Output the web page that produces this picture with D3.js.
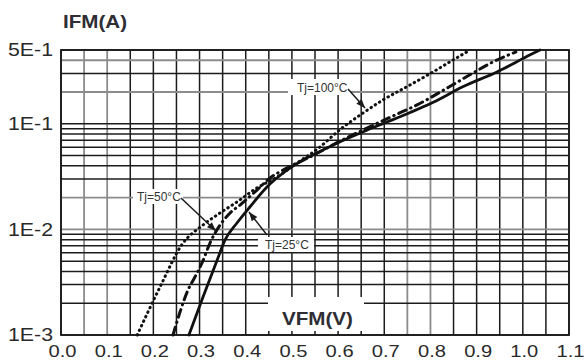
<!DOCTYPE html>
<html>
<head>
<meta charset="utf-8">
<script src="https://cdn.jsdelivr.net/npm/d3@7"></script>
<style>
  body { margin: 0; background: #fff; }
  svg { display: block; font-family: "Liberation Sans", Arial, sans-serif; }
</style>
</head>
<body>
<svg id="chart" width="586" height="363"></svg>
<script>
// forward curves
const vfm25 = [0.277, 0.3075, 0.338, 0.355, 0.381, 0.409, 0.446, 0.481, 0.524, 0.554, 0.589, 0.663, 0.706, 0.756, 0.806, 0.870, 0.944, 1.016, 1.037];
const ifm25 = [0.001, 0.00229, 0.0051, 0.0079, 0.0115, 0.0163, 0.0252, 0.0342, 0.0454, 0.0528, 0.063, 0.0873, 0.104, 0.128, 0.160, 0.224, 0.31, 0.45, 0.5];

const vfm50 = [0.2425, 0.2577, 0.275, 0.290, 0.3053, 0.3226, 0.366, 0.3876, 0.4244, 0.4526, 0.489, 0.539, 0.60, 0.66, 0.732, 0.771, 0.840, 0.907, 0.935, 0.985];
const ifm50 = [0.001, 0.00165, 0.00267, 0.00354, 0.00481, 0.00743, 0.0143, 0.017, 0.0236, 0.0307, 0.0381, 0.0485, 0.067, 0.09, 0.126, 0.151, 0.223, 0.33, 0.385, 0.479];

const vfm100 = [0.165, 0.2144, 0.262, 0.3075, 0.3443, 0.3811, 0.4244, 0.4677, 0.511, 0.556, 0.604, 0.654, 0.697, 0.75, 0.80, 0.85, 0.886];
const ifm100 = [0.001, 0.00285, 0.0072, 0.011, 0.0143, 0.0182, 0.0247, 0.0313, 0.0425, 0.058, 0.088, 0.1265, 0.168, 0.226, 0.30, 0.405, 0.5];

const xTickValues = [0, 0.1, 0.2, 0.3, 0.4, 0.5, 0.6, 0.7, 0.8, 0.9, 1.0, 1.1];
const xTickLabels = ['0.0', '0.1', '0.2', '0.3', '0.4', '0.5', '0.6', '0.7', '0.8', '0.9', '1.0', '1.1'];
const yTickValues = [0.5, 0.1, 0.01, 0.001];
const yTickLabels = ['5E-1', '1E-1', '1E-2', '1E-3'];

// gridlines that print lighter in the scan
const greyV = [0.05, 0.1, 0.75, 0.8];
const greyH = [0.4, 0.2, 0.02, 0.01];

const svg = d3.select("#chart");
const x = d3.scaleLinear().domain([0, 1.1]).range([61, 569]);
const y = d3.scaleLog().domain([0.001, 0.5]).range([335, 50]);
const ink = "#1c1c1c";
const near = (list, v) => list.some(g => Math.abs(g - v) < 1e-9);

// grid
const grid = svg.append("g");
grid.selectAll(".vg")
    .data(x.ticks(22))
    .enter()
    .append("line")
    .attr("x1", d => x(d)).attr("x2", d => x(d))
    .attr("y1", 50).attr("y2", 335)
    .attr("stroke", d => near(greyV, d) ? "#8c8c8c" : ink)
    .attr("stroke-width", d => near(greyV, d) ? 1.8 : 1.5);

grid.selectAll(".hg")
    .data(y.ticks())
    .enter()
    .append("line")
    .attr("x1", 61).attr("x2", 569)
    .attr("y1", d => y(d)).attr("y2", d => y(d))
    .attr("stroke", d => near(greyH, d) ? "#8c8c8c" : ink)
    .attr("stroke-width", d => near(greyH, d) ? 1.8 : 1.5);

grid.append("rect")
    .attr("x", 61).attr("y", 50).attr("width", 508).attr("height", 285)
    .attr("fill", "none").attr("stroke", ink).attr("stroke-width", 1.8);

// white patches behind the in-plot labels
const patches = [[268, 297, 96, 34], [288, 79, 63, 16], [133, 189, 50, 15], [258, 237, 56, 15]];
svg.selectAll(".patch")
    .data(patches)
    .enter()
    .append("rect")
    .attr("x", d => d[0]).attr("y", d => d[1])
    .attr("width", d => d[2]).attr("height", d => d[3])
    .attr("fill", "#fff");

// curves
const line = d3.line()
    .x(d => x(d[0]))
    .y(d => y(d[1]))
    .curve(d3.curveMonotoneX);

const series = [
    { v: vfm25, i: ifm25, dash: null, w: 2.8 },
    { v: vfm50, i: ifm50, dash: "8 5 0.5 5", w: 3 },
    { v: vfm100, i: ifm100, dash: "0.5 4.5", w: 3 }
];

svg.selectAll(".curve")
    .data(series)
    .enter()
    .append("path")
    .attr("d", s => line(s.v.map((v, k) => [v, s.i[k]])))
    .attr("fill", "none")
    .attr("stroke", "#111")
    .attr("stroke-width", s => s.w)
    .attr("stroke-linecap", "round")
    .attr("stroke-dasharray", s => s.dash);

// axes labels
const xAxis = svg.append("g")
    .attr("transform", "translate(0,335)")
    .call(d3.axisBottom(x).tickValues(xTickValues).tickFormat((d, k) => xTickLabels[k]).tickSize(0).tickPadding(10));
xAxis.select(".domain").remove();
xAxis.selectAll("text")
    .attr("x", 1)
    .attr("font-size", 17)
    .attr("font-family", "Liberation Sans, Arial")
    .attr("fill", "#2a2a2a")
    .attr("textLength", 28)
    .attr("lengthAdjust", "spacingAndGlyphs");

const yAxis = svg.append("g")
    .attr("transform", "translate(61,0)")
    .call(d3.axisLeft(y).tickValues(yTickValues).tickFormat((d, k) => yTickLabels[k]).tickSize(0).tickPadding(8));
yAxis.select(".domain").remove();
yAxis.selectAll("text")
    .attr("font-size", 18)
    .attr("font-family", "Liberation Sans, Arial")
    .attr("fill", "#2a2a2a")
    .attr("textLength", 45)
    .attr("lengthAdjust", "spacingAndGlyphs");

svg.append("text")
    .attr("x", 63).attr("y", 28)
    .attr("font-size", 18).attr("font-weight", "bold")
    .attr("fill", "#2e2e34")
    .attr("textLength", 64).attr("lengthAdjust", "spacingAndGlyphs")
    .text("IFM(A)");

svg.append("text")
    .attr("x", 282).attr("y", 325)
    .attr("font-size", 18).attr("font-weight", "bold")
    .attr("fill", "#2e2e34")
    .attr("textLength", 71).attr("lengthAdjust", "spacingAndGlyphs")
    .text("VFM(V)");

// temperature annotations
const notes = [
    { text: "Tj=100°C", x: 297, y: 92, from: [348, 89], to: [365, 108] },
    { text: "Tj=50°C", x: 137, y: 201, from: [181, 198], to: [216, 231] },
    { text: "Tj=25°C", x: 265, y: 249, from: [267, 235], to: [249, 212] }
];

svg.selectAll(".note")
    .data(notes)
    .enter()
    .append("text")
    .attr("x", d => d.x).attr("y", d => d.y)
    .attr("font-size", 12)
    .attr("fill", "#333")
    .text(d => d.text);

svg.selectAll(".lead")
    .data(notes)
    .enter()
    .append("line")
    .attr("x1", d => d.from[0]).attr("y1", d => d.from[1])
    .attr("x2", d => d.to[0]).attr("y2", d => d.to[1])
    .attr("stroke", "#1a1a1a").attr("stroke-width", 1.5);

svg.selectAll(".head")
    .data(notes)
    .enter()
    .append("path")
    .attr("d", d => {
        const ang = Math.atan2(d.to[1] - d.from[1], d.to[0] - d.from[0]);
        const len = 9, half = 3.5;
        const bx = d.to[0] - len * Math.cos(ang), by = d.to[1] - len * Math.sin(ang);
        const px = -Math.sin(ang) * half, py = Math.cos(ang) * half;
        return `M${d.to[0]},${d.to[1]} L${bx + px},${by + py} L${bx - px},${by - py} Z`;
    })
    .attr("fill", "#1a1a1a");
</script>
</body>
</html>
